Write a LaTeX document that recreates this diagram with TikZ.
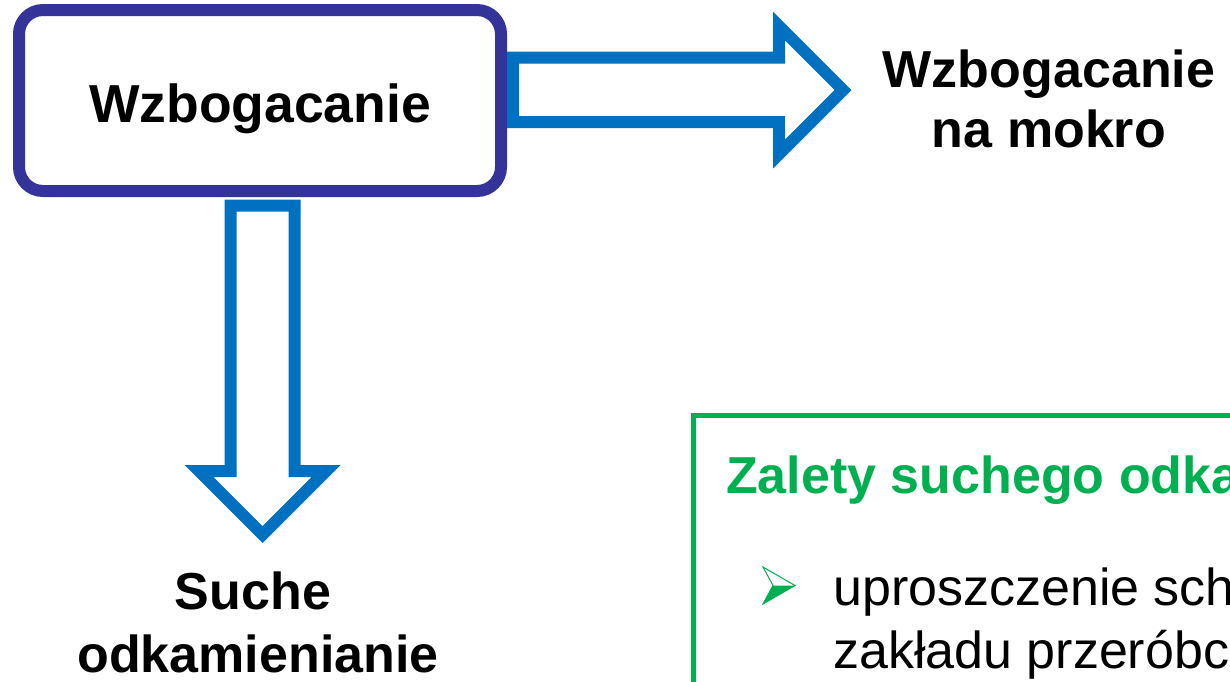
\documentclass[tikz,border=0pt]{standalone}
\usepackage{fontspec}
\setmainfont{Liberation Sans}
\definecolor{boxblue}{HTML}{333399}
\definecolor{arrblue}{HTML}{0070C0}
\definecolor{okgreen}{HTML}{00B050}
\begin{document}
\begin{tikzpicture}[x=1pt,y=-1pt,
  big/.style={font=\fontsize{52}{62}\selectfont\bfseries, inner sep=0pt, anchor=base},
  body/.style={font=\fontsize{52}{62}\selectfont, inner sep=0pt, anchor=base west},
  blockarrow/.style={draw=arrblue, line width=12pt, fill=white, line join=miter, miter limit=10},
  mainbox/.style={draw=boxblue, line width=12pt, rounded corners=24pt, fill=white, inner sep=0pt},
  greenframe/.style={draw=okgreen, line width=5pt}]
\useasboundingbox (0,0) rectangle (1230,681);
\clip (0,0) rectangle (1230,681);
% main box
\node[mainbox, minimum width=482pt, minimum height=181pt] (box) at (260,100.5) {};
\node[big, font=\fontsize{53.5}{62}\selectfont\bfseries] (t1) at (260,122) {Wzbogacanie};
% right block arrow
\draw[blockarrow] (513,57.5) -- (779,57.5) -- (779,26) -- (843,90) -- (779,154) -- (779,122) -- (513,122) -- cycle;
% down block arrow
\draw[blockarrow] (230.5,205.5) -- (294.5,205.5) -- (294.5,471) -- (326,471) -- (262.5,534.5) -- (199,471) -- (230.5,471) -- cycle;
% right text
\node[big] (w1) at (1049,87) {Wzbogacanie};
\node[big] (w2) at (1049,147) {na mokro};
% bottom text
\node[big] (s1) at (253,609) {Suche};
\node[big] (s2) at (258,672) {odkamienianie};
% green frame
\draw[greenframe] (693.5,415.5) rectangle (1400,900);
\node[body, font=\fontsize{52}{62}\selectfont\bfseries, text=okgreen] (z) at (726,493) {Zalety suchego odkamieniania};
% bullet
\coordinate (b1) at (763,567);
\coordinate (b2) at (795,585.5);
\coordinate (b3) at (763,604);
\coordinate (b4) at (773,585.5);
\fill[okgreen] (b4) -- (b2) -- (b3) -- cycle;
\draw[okgreen, line width=1pt, line join=miter] (b1) -- (b2) -- (b3) -- (b4) -- cycle;
\node[body] (u1) at (833,605) {uproszczenie schematu};
\node[body] (u2) at (833,668) {zakładu przeróbczego};
\end{tikzpicture}
\end{document}
